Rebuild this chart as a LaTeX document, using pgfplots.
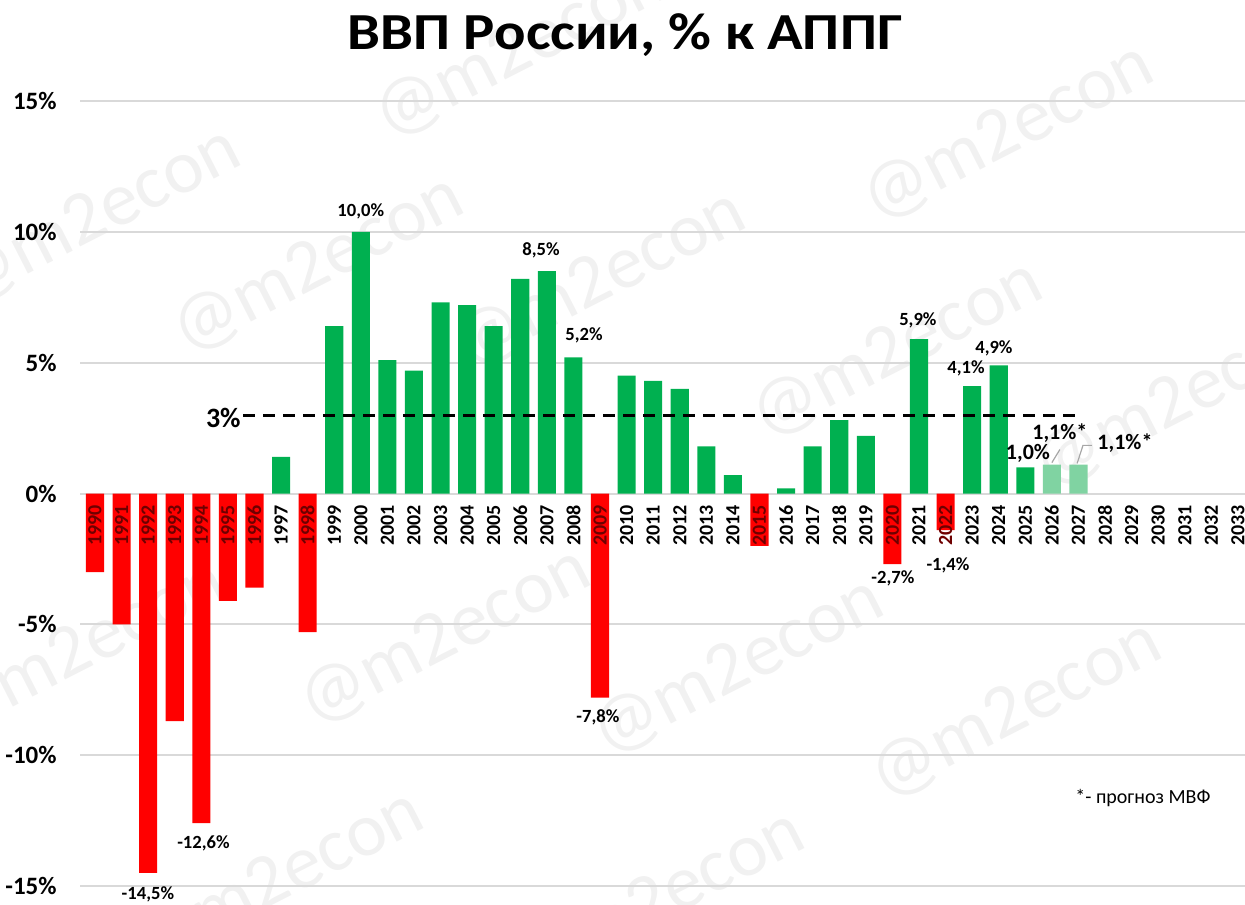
\documentclass[border=0pt]{standalone}
\usepackage{pgfplots}
\pgfplotsset{compat=1.18}
\usepackage{fontspec}
\setmainfont{Carlito}
\definecolor{gr}{RGB}{0,176,80}
\definecolor{lgr}{RGB}{128,211,162}
\definecolor{rd}{RGB}{255,0,0}
\definecolor{dr}{RGB}{110,0,0}
\definecolor{gridc}{RGB}{217,217,217}
\tikzset{
  lab/.style={font=\fontsize{9.3}{10}\selectfont\bfseries, inner sep=0pt},
  labb/.style={font=\fontsize{11}{12}\selectfont\bfseries, inner sep=0pt},
}
\pgfplotsset{
  base/.style={
    at={(0pt,0pt)}, anchor=south west,
    scale only axis, width=582.5pt, height=392.5pt,
    xmin=-0.5643, xmax=43.266, ymin=-15, ymax=15,
    major tick length=0pt, clip=false,
  },
}
\newcommand{\ny}[1]{\textcolor{dr}{#1}}
\begin{document}
\begin{tikzpicture}
\path[use as bounding box] (-40pt,-9pt) rectangle (582.5pt,443pt);
% watermarks
\foreach \wx/\wy in {220/418,464/376.5,7.5/334.5,119/310.5,260/303,550/243,408.5/268,0/118,182.5/124.5,329/109.5,468/88,99/3,289.5/-7}{
  \node[rotate=27, font=\fontsize{38}{40}\selectfont, text=black, text opacity=0.055] at (\wx pt,\wy pt) {@m2econ};
}
\begin{axis}[
  base,
  axis line style={draw=none},
  ymajorgrids, grid style={gridc, line width=1pt},
  ytick={-15,-10,-5,0,5,10,15},
  yticklabels={-15\%,-10\%,-5\%,0\%,5\%,10\%,15\%},
  yticklabel style={font=\fontsize{12.5}{13}\selectfont\bfseries, anchor=east, inner sep=0pt},
  yticklabel shift=11.5pt,
  xtick=\empty,
]
\addplot[ybar, bar width=0.68, bar shift=0pt, fill=rd, draw=none] coordinates {
 (0,-3.0)(1,-5.0)(2,-14.5)(3,-8.7)(4,-12.6)(5,-4.1)(6,-3.6)(8,-5.3)(19,-7.8)(25,-2.0)(30,-2.7)(32,-1.4)};
\addplot[ybar, bar width=0.68, bar shift=0pt, fill=gr, draw=none] coordinates {
 (7,1.4)(9,6.4)(10,10.0)(11,5.1)(12,4.7)(13,7.3)(14,7.2)(15,6.4)(16,8.2)(17,8.5)(18,5.2)
 (20,4.5)(21,4.3)(22,4.0)(23,1.8)(24,0.7)(26,0.2)(27,1.8)(28,2.8)(29,2.2)(31,5.9)(33,4.1)(34,4.9)(35,1.0)};
\addplot[ybar, bar width=0.68, bar shift=0pt, fill=lgr, draw=none] coordinates {(36,1.1)(37,1.1)};
\addplot[black, line width=1.5pt, dash pattern=on 6pt off 4pt, no marks] coordinates {(5.57,3)(37.05,3)};
\addplot[gray!70, line width=0.6pt, no marks] coordinates {(36.0,1.18)(36.3,1.68)};
\addplot[gray!70, line width=0.6pt, no marks] coordinates {(36.95,1.15)(37.17,1.84)(37.5,1.84)};
\node[font=\fontsize{14}{15}\selectfont\bfseries, anchor=east, inner sep=1pt, yshift=-1.5pt] at (axis cs:5.57,3) {3\%};
% data labels
\node[lab] at (axis cs:1.99,-15.30) {-14,5\%};
\node[lab] at (axis cs:4.08,-13.38) {-12,6\%};
\node[lab] at (axis cs:18.92,-8.57) {-7,8\%};
\node[lab] at (axis cs:30.02,-3.25) {-2,7\%};
\node[lab] at (axis cs:32.09,-2.75) {-1,4\%};
\node[lab] at (axis cs:10.0,10.78) {10,0\%};
\node[lab] at (axis cs:16.78,9.29) {8,5\%};
\node[lab] at (axis cs:18.4,6.04) {5,2\%};
\node[lab] at (axis cs:30.96,6.62) {5,9\%};
\node[lab] at (axis cs:32.77,4.78) {4,1\%};
\node[lab] at (axis cs:33.82,5.54) {4,9\%};
\node[labb] at (axis cs:35.1,1.53) {1,0\%};
\node[labb] at (axis cs:36.3,2.29) {1,1\%*};
\node[labb] at (axis cs:38.75,1.91) {1,1\%*};
\end{axis}
% overlay axis for year labels (drawn on top of bars)
\begin{axis}[
  base,
  axis x line=middle, axis y line=none,
  axis line style={draw=none},
  hide obscured x ticks=false,
  ytick=\empty,
  xtick={0,...,43},
  xticklabels={\ny{1990},\ny{1991},\ny{1992},\ny{1993},\ny{1994},\ny{1995},\ny{1996},1997,\ny{1998},1999,2000,2001,2002,2003,2004,2005,2006,2007,2008,\ny{2009},2010,2011,2012,2013,2014,\ny{2015},2016,2017,2018,2019,\ny{2020},2021,\ny{2022},2023,2024,2025,2026,2027,2028,2029,2030,2031,2032,2033},
  xticklabel style={rotate=90, anchor=east, inner sep=0pt, font=\fontsize{10}{11}\selectfont\bfseries},
  xticklabel shift=5.5pt,
]
\addplot[draw=none, no marks] coordinates {(0,0)(43,0)};
\end{axis}
\node[font=\fontsize{26}{30}\selectfont\bfseries, anchor=base, xscale=1.13] at (272.5pt,418pt) {ВВП России, \% к АППГ};
\node[font=\fontsize{10}{11}\selectfont, anchor=base west, inner sep=0pt] at (497.5pt,41.5pt) {*- прогноз МВФ};
\end{tikzpicture}
\end{document}
